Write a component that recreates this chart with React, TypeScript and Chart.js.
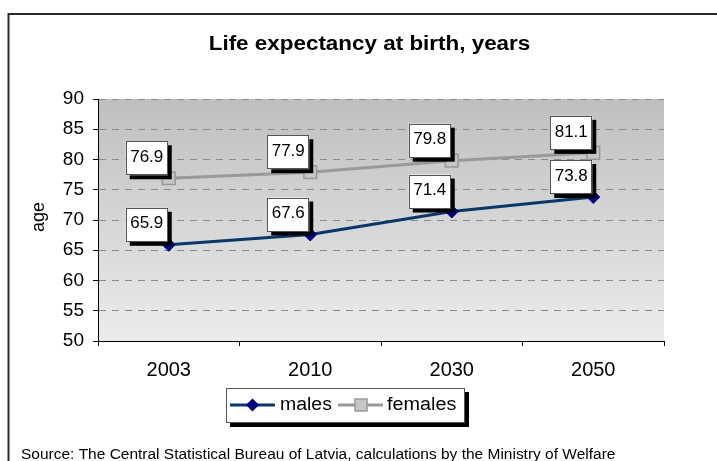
import React, { useEffect, useRef } from 'react';
import { Chart, registerables } from 'chart.js';

Chart.register(...registerables);

const categories = ['2003', '2010', '2030', '2050'];
const males = [65.9, 67.6, 71.4, 73.8];
const females = [76.9, 77.9, 79.8, 81.1];
const seriesNames = ['males', 'females'];
const yMin = 50;
const yMax = 90;
const yStep = 5;
const titleText = 'Life expectancy at birth, years';
const yAxisTitle = 'age';
const sourceText =
  'Source: The Central Statistical Bureau of Latvia, calculations by the Ministry of Welfare';

const FONT = '"Liberation Sans", Arial, sans-serif';
const MALE_LINE = '#0a3768';
const MALE_MARK = '#000080';
const FEMALE_LINE = '#999999';
const FEMALE_FILL = '#c6c6c6';

function drawDiamond(ctx: CanvasRenderingContext2D, x: number, y: number, r: number, color: string) {
  ctx.beginPath();
  ctx.moveTo(x - r, y);
  ctx.lineTo(x, y - r);
  ctx.lineTo(x + r, y);
  ctx.lineTo(x, y + r);
  ctx.closePath();
  ctx.fillStyle = color;
  ctx.fill();
}

function stretchedText(
  ctx: CanvasRenderingContext2D,
  text: string,
  x: number,
  y: number,
  sx: number,
  align: CanvasTextAlign,
  baseline: CanvasTextBaseline
) {
  ctx.save();
  ctx.translate(x, y);
  ctx.scale(sx, 1);
  ctx.textAlign = align;
  ctx.textBaseline = baseline;
  ctx.fillText(text, 0, 0);
  ctx.restore();
}

const decor = {
  id: 'decor',
  beforeDraw(chart: any) {
    const { ctx, chartArea: a } = chart;
    ctx.save();
    ctx.fillStyle = '#ffffff';
    ctx.fillRect(0, 0, chart.width, chart.height);
    const g = ctx.createLinearGradient(0, a.top, 0, a.bottom);
    g.addColorStop(0, '#bfbfbf');
    g.addColorStop(1, '#ececec');
    ctx.fillStyle = g;
    ctx.fillRect(a.left, a.top, a.right - a.left, a.bottom - a.top);

    // outer frame
    ctx.strokeStyle = '#2a2a2a';
    ctx.lineWidth = 2;
    ctx.beginPath();
    ctx.moveTo(8.5, chart.height);
    ctx.lineTo(8.5, 14);
    ctx.lineTo(chart.width, 14);
    ctx.stroke();

    // title
    ctx.fillStyle = '#000';
    ctx.font = `bold 19.5px ${FONT}`;
    stretchedText(ctx, titleText, 369.5, 50, 1.15, 'center', 'alphabetic');

    // y axis title
    ctx.save();
    ctx.translate(39, 217);
    ctx.rotate(-Math.PI / 2);
    ctx.font = `18px ${FONT}`;
    ctx.textAlign = 'center';
    ctx.textBaseline = 'middle';
    ctx.fillText(yAxisTitle, 0, 0);
    ctx.restore();

    // source
    ctx.font = `14px ${FONT}`;
    stretchedText(ctx, sourceText, 21, 459, 1.106, 'left', 'alphabetic');
    ctx.restore();
  },
  afterDatasetsDraw(chart: any) {
    const { ctx } = chart;
    ctx.save();
    ctx.font = `17px ${FONT}`;
    chart.data.datasets.forEach((ds: any, i: number) => {
      const meta = chart.getDatasetMeta(i);
      meta.data.forEach((pt: any, j: number) => {
        const txt = ds.data[j].toFixed(1);
        const w = 42;
        const h = 34;
        const right = pt.x - 1;
        const bottom = pt.y - 3;
        const left = right - w;
        const top = bottom - h;
        ctx.fillStyle = '#000';
        ctx.fillRect(left + 4, top + 4, w, h);
        ctx.fillStyle = '#fff';
        ctx.fillRect(left, top, w, h);
        ctx.strokeStyle = '#555';
        ctx.lineWidth = 1;
        ctx.strokeRect(Math.round(left) + 0.5, Math.round(top) + 0.5, w - 1, h - 1);
        ctx.fillStyle = '#000';
        ctx.textAlign = 'center';
        ctx.textBaseline = 'middle';
        ctx.fillText(txt, left + w / 2, top + h / 2 - 1);
      });
    });
    ctx.restore();
  },
  afterDraw(chart: any) {
    const { ctx } = chart;
    ctx.save();
    // legend box
    const lx = 226, ly = 388, lw = 239, lh = 35;
    ctx.fillStyle = '#000';
    ctx.fillRect(lx + 4, ly + 4, lw, lh);
    ctx.fillStyle = '#fff';
    ctx.fillRect(lx, ly, lw, lh);
    ctx.strokeStyle = '#555';
    ctx.lineWidth = 1;
    ctx.strokeRect(lx + 0.5, ly + 0.5, lw - 1, lh - 1);
    const cy = 405;
    // males
    ctx.strokeStyle = MALE_LINE;
    ctx.lineWidth = 3;
    ctx.beginPath();
    ctx.moveTo(230, cy);
    ctx.lineTo(275, cy);
    ctx.stroke();
    drawDiamond(ctx, 252.5, cy, 6.5, MALE_MARK);
    ctx.fillStyle = '#000';
    ctx.font = `18px ${FONT}`;
    stretchedText(ctx, seriesNames[0], 280, cy, 1.08, 'left', 'middle');
    // females
    ctx.strokeStyle = FEMALE_LINE;
    ctx.lineWidth = 3;
    ctx.beginPath();
    ctx.moveTo(338, cy);
    ctx.lineTo(383, cy);
    ctx.stroke();
    ctx.fillStyle = FEMALE_FILL;
    ctx.fillRect(355, cy - 6, 12, 12);
    ctx.strokeStyle = FEMALE_LINE;
    ctx.lineWidth = 1.5;
    ctx.strokeRect(355, cy - 6, 12, 12);
    ctx.fillStyle = '#000';
    stretchedText(ctx, seriesNames[1], 387, cy, 1.1, 'left', 'middle');
    ctx.restore();
  },
};

export default function App() {
  const ref = useRef<HTMLCanvasElement | null>(null);
  useEffect(() => {
    document.body.style.margin = '0';
    const canvas = ref.current;
    if (!canvas) return;
    const chart = new Chart(canvas, {
      type: 'line',
      data: {
        labels: categories,
        datasets: [
          {
            label: seriesNames[0],
            data: males,
            borderColor: MALE_LINE,
            borderWidth: 3,
            pointStyle: 'rectRot',
            pointRadius: 6.5,
            pointBackgroundColor: MALE_MARK,
            pointBorderColor: MALE_MARK,
            pointBorderWidth: 1,
            tension: 0,
          },
          {
            label: seriesNames[1],
            data: females,
            borderColor: FEMALE_LINE,
            borderWidth: 3,
            pointStyle: 'rect',
            pointRadius: 9,
            pointBackgroundColor: FEMALE_FILL,
            pointBorderColor: FEMALE_LINE,
            pointBorderWidth: 1.5,
            tension: 0,
          },
        ],
      },
      options: {
        responsive: false,
        animation: false,
        devicePixelRatio: 1,
        layout: { padding: { top: 99, right: 53, left: 0, bottom: 0 } },
        plugins: {
          legend: { display: false },
          title: { display: false },
          tooltip: { enabled: false },
        },
        scales: {
          x: {
            type: 'category',
            offset: true,
            grid: {
              offset: true,
              drawOnChartArea: false,
              drawTicks: true,
              tickLength: 5,
              tickColor: '#000',
            },
            border: { color: '#000', width: 1 },
            ticks: { color: '#000', font: { family: FONT, size: 20 }, padding: 12, maxRotation: 0 },
            afterFit: (s: any) => {
              s.height = 120;
            },
          },
          y: {
            min: yMin,
            max: yMax,
            grid: {
              color: '#8c8c8c',
              lineWidth: 1,
              tickLength: 5,
              tickColor: '#000',
              tickBorderDash: [],
            },
            border: { color: '#000', width: 1, dash: [7, 6] },
            ticks: {
              stepSize: yStep,
              color: '#000',
              font: { family: FONT, size: 19 },
              padding: 9,
            },
            afterFit: (s: any) => {
              s.width = 98;
            },
          },
        },
      },
      plugins: [decor],
    });
    return () => chart.destroy();
  }, []);
  return <canvas ref={ref} width={717} height={461} style={{ display: 'block' }} />;
}
